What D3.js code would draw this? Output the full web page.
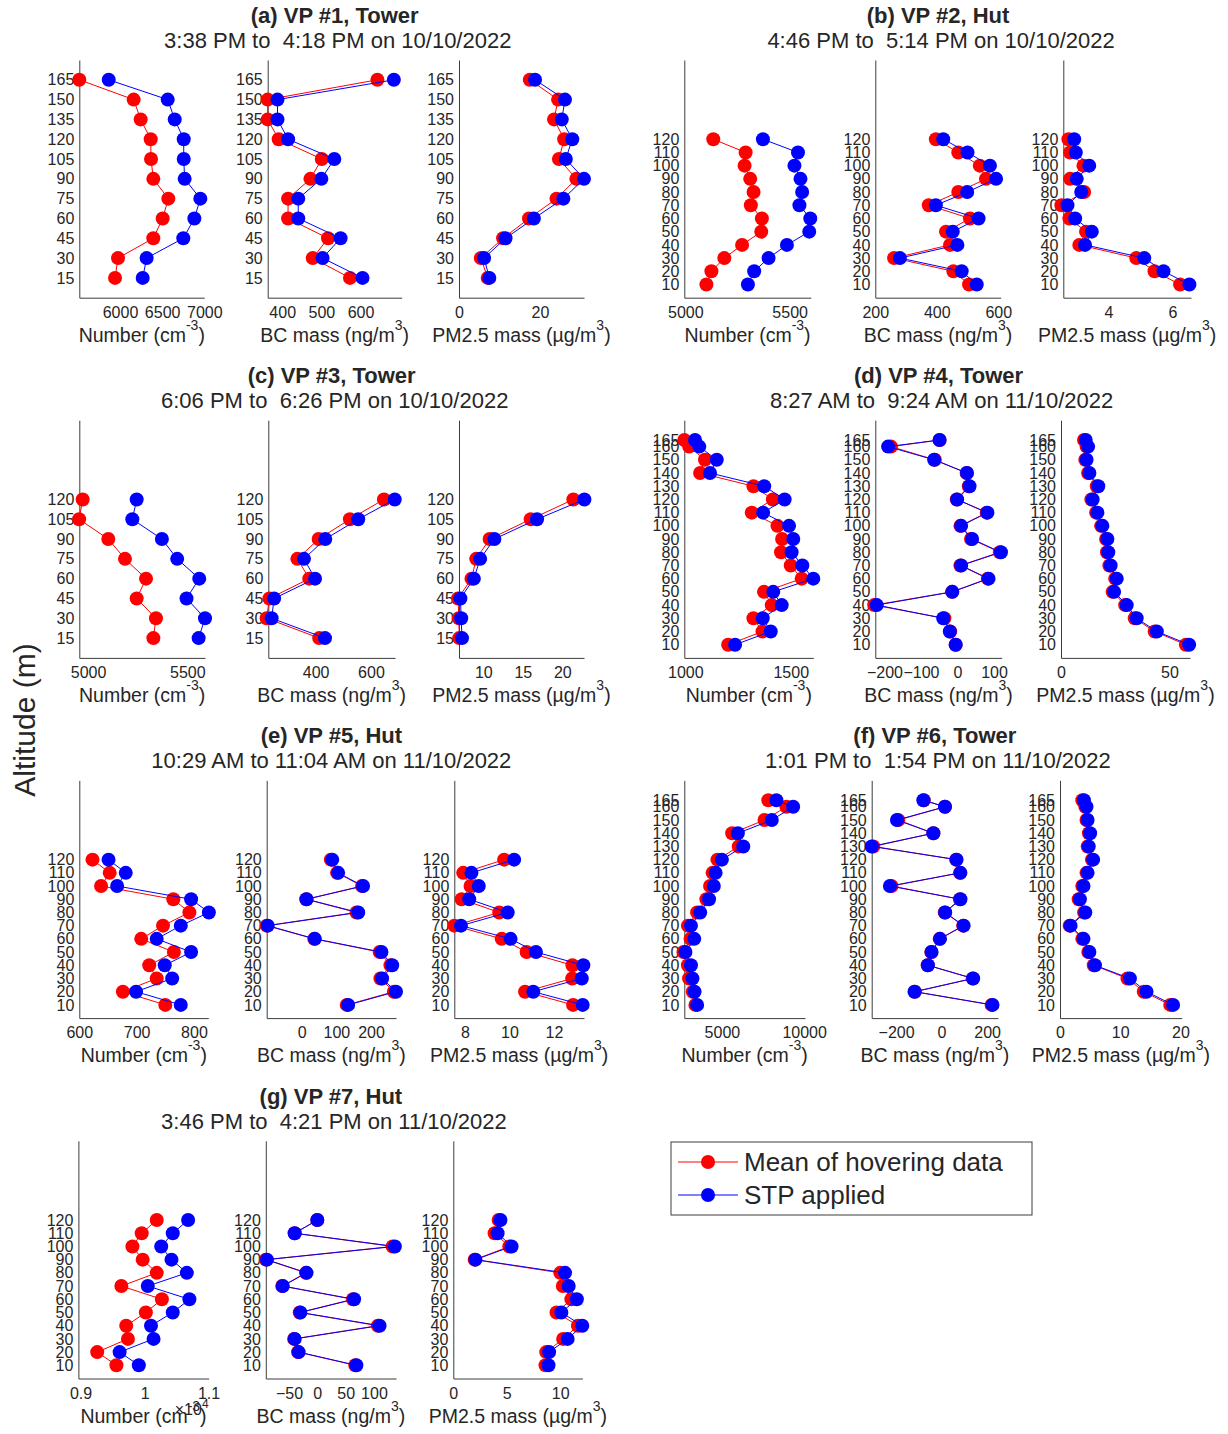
<!DOCTYPE html>
<html>
<head>
<meta charset="utf-8">
<script src="https://cdn.jsdelivr.net/npm/d3@7"></script>
<style>
  body { margin: 0; background: #fff; }
  svg text { font-family: "Liberation Sans", Arial, Helvetica, sans-serif; fill: #262626; }
</style>
</head>
<body>
<svg id="fig" width="1228" height="1434"></svg>
<script>
// ---------------- vertical profile data ----------------
// Each profile: altitudes (m) and, for number, BC and PM2.5,
// the mean of hovering data and the STP-applied value.

// VP #1
const vp1Alt = [165, 150, 135, 120, 105, 90, 75, 60, 45, 30, 15];
const vp1NumMean = [5517, 6162, 6245, 6364, 6368, 6395, 6573, 6506, 6395, 5976, 5941];
const vp1NumStp  = [5866, 6566, 6649, 6756, 6756, 6767, 6953, 6882, 6751, 6316, 6269];
const vp1BcMean  = [643, 363, 363, 391, 501, 472, 415, 415, 517, 478, 573];
const vp1BcStp   = [685, 388, 388, 415, 533, 500, 441, 441, 549, 503, 605];
const vp1PmMean  = [17.5, 24.5, 23.5, 26.0, 24.7, 29.0, 24.1, 17.3, 10.9, 5.4, 7.1];
const vp1PmStp   = [18.8, 26.2, 25.4, 28.0, 26.4, 30.9, 25.8, 18.5, 11.5, 6.2, 7.5];

// VP #2
const vp2Alt = [120, 110, 100, 90, 80, 70, 60, 50, 40, 30, 20, 10];
const vp2NumMean = [5134, 5289, 5284, 5311, 5327, 5314, 5367, 5364, 5272, 5187, 5125, 5101];
const vp2NumStp  = [5372, 5540, 5523, 5552, 5560, 5547, 5599, 5594, 5487, 5399, 5330, 5300];
const vp2BcMean  = [397, 470, 540, 560, 470, 374, 508, 430, 443, 261, 454, 505];
const vp2BcStp   = [421, 500, 573, 593, 499, 397, 536, 452, 467, 280, 481, 530];
const vp2PmMean  = [2.75, 2.80, 3.22, 2.80, 3.24, 2.53, 2.78, 3.30, 3.09, 4.87, 5.44, 6.24];
const vp2PmStp   = [2.93, 2.98, 3.40, 3.01, 3.15, 2.72, 2.96, 3.48, 3.27, 5.12, 5.72, 6.53];

// VP #3
const vp3Alt = [120, 105, 90, 75, 60, 45, 30, 15];
const vp3NumMean = [4973, 4955, 5102, 5186, 5292, 5245, 5342, 5329];
const vp3NumStp  = [5245, 5223, 5372, 5449, 5560, 5496, 5589, 5557];
const vp3BcMean  = [647, 524, 411, 334, 377, 233, 223, 413];
const vp3BcStp   = [686, 554, 435, 358, 398, 250, 241, 434];
const vp3PmMean  = [21.4, 16.0, 10.8, 9.1, 8.5, 6.8, 6.9, 6.95];
const vp3PmStp   = [22.8, 16.8, 11.4, 9.6, 8.8, 7.1, 7.2, 7.3];

// VP #4
const vp4Alt = [165, 160, 150, 140, 130, 120, 110, 100, 90, 80, 70, 60, 50, 40, 30, 20, 10];
const vp4NumMean = [995, 1018, 1093, 1070, 1323, 1415, 1315, 1437, 1459, 1454, 1500, 1552, 1373, 1410, 1323, 1366, 1203];
const vp4NumStp  = [1046, 1066, 1149, 1117, 1374, 1471, 1369, 1492, 1512, 1504, 1555, 1607, 1417, 1457, 1367, 1405, 1236];
const vp4BcMean  = [-49, -182, -62, 25, 31, -2, 80, 8, 37, 116, 8, 83, -15, -228, -36, -20, -5];
const vp4BcStp   = [-49, -190, -64, 26, 33, -1, 82, 10, 40, 119, 10, 85, -14, -221, -39, -21, -5];
const vp4PmMean  = [10.6, 11.8, 11.2, 12.5, 16.5, 14.0, 16.2, 18.5, 20.8, 21.2, 22.3, 25.0, 23.8, 29.6, 34.0, 43.2, 57.6];
const vp4PmStp   = [11.4, 12.5, 11.8, 13.1, 17.2, 14.6, 16.8, 19.1, 21.4, 21.8, 22.9, 25.7, 24.5, 30.3, 34.9, 44.2, 59.1];

// VP #5
const vp5Alt = [120, 110, 100, 90, 80, 70, 60, 50, 40, 30, 20, 10];
const vp5NumMean = [623, 653, 638, 764, 792, 746, 708, 765, 722, 735, 676, 750];
const vp5NumStp  = [651, 681, 666, 795, 826, 777, 735, 795, 749, 762, 699, 777];
const vp5BcMean  = [84, 102, 174, 13, 158, -101, 36, 225, 256, 227, 266, 130];
const vp5BcStp   = [88, 105, 177, 14, 163, -98, 38, 230, 261, 232, 272, 134];
const vp5PmMean  = [9.76, 7.92, 8.25, 7.85, 9.54, 7.52, 9.65, 10.77, 12.83, 12.82, 10.70, 12.86];
const vp5PmStp   = [10.21, 8.29, 8.62, 8.19, 9.92, 7.82, 10.05, 11.19, 13.32, 13.25, 11.07, 13.29];

// VP #6
const vp6Alt = [165, 160, 150, 140, 130, 120, 110, 100, 90, 80, 70, 60, 50, 40, 30, 20, 10];
const vp6NumMean = [7820, 8920, 7590, 5625, 6025, 4730, 4435, 4280, 4055, 3495, 2935, 3095, 2665, 2935, 3005, 3230, 3390];
const vp6NumStp  = [8310, 9330, 8030, 5970, 6300, 5000, 4620, 4510, 4220, 3680, 3120, 3320, 2785, 3120, 3210, 3340, 3495];
const vp6BcMean  = [-78, 15, -190, -36, -300, 64, 81, -220, 81, 14, 95, -8, -45, -61, 137, -117, 220];
const vp6BcStp   = [-80, 15, -196, -36, -307, 66, 83, -227, 83, 16, 97, -7, -44, -60, 139, -119, 224];
const vp6PmMean  = [3.7, 4.2, 4.4, 4.8, 4.6, 5.3, 4.4, 3.7, 3.1, 4.0, 1.6, 3.7, 4.7, 5.6, 11.2, 13.9, 18.3];
const vp6PmStp   = [3.97, 4.4, 4.58, 5.0, 4.77, 5.5, 4.58, 3.9, 3.3, 4.2, 1.76, 3.9, 4.88, 5.8, 11.6, 14.36, 18.77];

// VP #7
const vp7Alt = [120, 110, 100, 90, 80, 70, 60, 50, 40, 30, 20, 10];
const vp7NumMean = [10190, 9955, 9810, 9970, 10190, 9637, 10270, 10020, 9713, 9740, 9260, 9560];
const vp7NumStp  = [10680, 10440, 10260, 10420, 10660, 10050, 10700, 10440, 10100, 10140, 9610, 9910];
const vp7BcMean  = [0, -40, 133, -91, -20, -62, 63, -31, 107, -41, -34, 67];
const vp7BcStp   = [0, -40, 137, -89, -19, -61, 65, -30, 110, -40, -33, 69];
const vp7PmMean  = [4.24, 3.86, 5.24, 2.0, 10.0, 10.24, 11.04, 9.65, 11.65, 10.27, 8.69, 8.62];
const vp7PmStp   = [4.41, 4.14, 5.45, 2.07, 10.45, 10.79, 11.55, 10.1, 12.06, 10.69, 8.96, 8.9];

// Axis limits (number, BC, PM2.5) per profile
const vp1Lims = [[5517, 7000], [363, 705], [0, 30.9]];
const vp2Lims = [[4995, 5601], [200, 608], [2.59, 6.58]];
const vp3Lims = [[4956, 5589], [229, 687], [6.92, 22.75]];
const vp4Lims = [[995, 1607], [-225, 121], [0, 59.5]];
const vp5Lims = [[600, 825], [-101, 272], [7.52, 13.35]];
const vp6Lims = [[2716, 10050], [-307, 248], [0, 20.2]];
const vp7Lims = [[8966, 11000], [-91, 139], [0, 12.07]];

// Tick values (number, BC, PM2.5) per profile
const vp1Ticks = [[6000, 6500, 7000], [400, 500, 600], [0, 20]];
const vp2Ticks = [[5000, 5500], [200, 400, 600], [4, 6]];
const vp3Ticks = [[5000, 5500], [400, 600], [10, 15, 20]];
const vp4Ticks = [[1000, 1500], [-200, -100, 0, 100], [0, 50]];
const vp5Ticks = [[600, 700, 800], [0, 100, 200], [8, 10, 12]];
const vp6Ticks = [[5000, 10000], [-200, 0, 200], [0, 10, 20]];
const vp7Ticks = [[9000, 10000, 11000], [-50, 0, 50, 100], [0, 5, 10]];

const panelTitles = ["(a) VP #1, Tower", "(b) VP #2, Hut", "(c) VP #3, Tower", "(d) VP #4, Tower",
                     "(e) VP #5, Hut", "(f) VP #6, Tower", "(g) VP #7, Hut"];
const panelTimes = [" 3:38 PM to  4:18 PM on 10/10/2022", " 4:46 PM to  5:14 PM on 10/10/2022",
                    " 6:06 PM to  6:26 PM on 10/10/2022", " 8:27 AM to  9:24 AM on 11/10/2022",
                    "10:29 AM to 11:04 AM on 11/10/2022", " 1:01 PM to  1:54 PM on 11/10/2022",
                    " 3:46 PM to  4:21 PM on 11/10/2022"];
const seriesNames = ["Mean of hovering data", "STP applied"];
const altitudeDomain = [0, 180];

// ---------------- assemble ----------------
const profiles = [
  { alt: vp1Alt, vals: [[vp1NumMean, vp1NumStp], [vp1BcMean, vp1BcStp], [vp1PmMean, vp1PmStp]], lims: vp1Lims, ticks: vp1Ticks },
  { alt: vp2Alt, vals: [[vp2NumMean, vp2NumStp], [vp2BcMean, vp2BcStp], [vp2PmMean, vp2PmStp]], lims: vp2Lims, ticks: vp2Ticks },
  { alt: vp3Alt, vals: [[vp3NumMean, vp3NumStp], [vp3BcMean, vp3BcStp], [vp3PmMean, vp3PmStp]], lims: vp3Lims, ticks: vp3Ticks },
  { alt: vp4Alt, vals: [[vp4NumMean, vp4NumStp], [vp4BcMean, vp4BcStp], [vp4PmMean, vp4PmStp]], lims: vp4Lims, ticks: vp4Ticks },
  { alt: vp5Alt, vals: [[vp5NumMean, vp5NumStp], [vp5BcMean, vp5BcStp], [vp5PmMean, vp5PmStp]], lims: vp5Lims, ticks: vp5Ticks },
  { alt: vp6Alt, vals: [[vp6NumMean, vp6NumStp], [vp6BcMean, vp6BcStp], [vp6PmMean, vp6PmStp]], lims: vp6Lims, ticks: vp6Ticks },
  { alt: vp7Alt, vals: [[vp7NumMean, vp7NumStp], [vp7BcMean, vp7BcStp], [vp7PmMean, vp7PmStp]], lims: vp7Lims, ticks: vp7Ticks, expNum: 4 }
];

// ---------------- layout ----------------
const colors = ["#ff0000", "#0000ff"];
const axisColor = "#3c3c3c";
const rowBottoms = [297.7, 657.9, 1018.1, 1378.5];
const axisHeight = 237.7;
// horizontal pixel spans of the three axes in each profile
const axisSpans = [
  [[79.3, 204.3], [267.7, 401.7], [459, 584]],
  [[684.3, 810.7], [875.3, 1000.7], [1063.3, 1191]],
  [[79.3, 205], [268.3, 395], [459, 584]],
  [[684.3, 813.3], [875.3, 1001.7], [1061, 1190]],
  [[79.3, 208.3], [266.7, 396], [454.3, 584]],
  [[684.3, 805], [871.7, 998], [1060, 1181.7]],
  [[78.4, 208.6], [265.8, 396], [453.3, 582.4]]
];
const rowOf = [0, 0, 1, 1, 2, 2, 3];

const svg = d3.select("#fig");
const tickFont = 16, labelFont = 19.5, titleFont = 22, markerR = 7;

// tick labels use a true minus sign
function fmt(v) { return String(v).replace("-", "\u2212"); }

function axisLabel(g, cx, y, kind) {
  const t = g.append("text").attr("x", cx).attr("y", y)
    .attr("text-anchor", "middle").style("font-size", labelFont + "px");
  const parts = [["Number (cm", "-3"], ["BC mass (ng/m", "3"], ["PM2.5 mass (\u00b5g/m", "3"]][kind];
  t.append("tspan").text(parts[0]);
  t.append("tspan").attr("dy", -12).style("font-size", "14px").text(parts[1]);
  t.append("tspan").attr("dy", 12).text(")");
}

profiles.forEach((p, pi) => {
  const bottom = rowBottoms[rowOf[pi]];
  const top = bottom - axisHeight;
  const y = d3.scaleLinear().domain(altitudeDomain).range([bottom, top]);

  for (let k = 0; k < 3; k++) {
    const [x0, x1] = axisSpans[pi][k];
    const x = d3.scaleLinear().domain(p.lims[k]).range([x0, x1]);
    const g = svg.append("g");

    // left axis with altitude ticks
    const ay = g.append("g").attr("transform", `translate(${x0},0)`)
      .call(d3.axisLeft(y).tickValues(p.alt).tickSize(0).tickPadding(5).tickFormat(d3.format("d")));
    // bottom axis
    const useExp = (k === 0 && p.expNum);
    const ax = g.append("g").attr("transform", `translate(0,${bottom})`)
      .call(d3.axisBottom(x).tickValues(p.ticks[k]).tickSize(0).tickPadding(9)
        .tickFormat(v => useExp ? fmt(+(v / Math.pow(10, p.expNum)).toFixed(3)) : fmt(v)));
    [ay, ax].forEach(a => {
      a.select(".domain").attr("stroke", axisColor).attr("stroke-width", 1);
      a.selectAll("text").style("font-size", tickFont + "px").attr("fill", "#262626")
        .style("font-family", '"Liberation Sans", Arial, Helvetica, sans-serif');
    });

    // profiles: mean first, STP on top
    p.vals[k].forEach((vals, si) => {
      const pts = p.alt.map((a, i) => ({ a, v: vals[i] }));
      g.append("path").datum(pts)
        .attr("fill", "none").attr("stroke", colors[si]).attr("stroke-width", 1)
        .attr("d", d3.line().x(d => x(d.v)).y(d => y(d.a)));
      g.selectAll(null).data(pts).enter().append("circle")
        .attr("cx", d => x(d.v)).attr("cy", d => y(d.a)).attr("r", markerR)
        .attr("fill", colors[si]);
    });

    axisLabel(g, (x0 + x1) / 2, bottom + 44, k);

    if (useExp) {
      const e = g.append("text").attr("x", x1).attr("y", bottom + 36)
        .attr("text-anchor", "end").style("font-size", tickFont + "px");
      e.append("tspan").text("\u00d710");
      e.append("tspan").attr("dy", -7).style("font-size", "12px").text(String(p.expNum));
    }
  }

  // two-line title centred over the middle axis
  const mid = (axisSpans[pi][1][0] + axisSpans[pi][1][1]) / 2;
  svg.append("text").attr("x", mid).attr("y", top - 37).attr("text-anchor", "middle")
    .style("font-size", titleFont + "px").style("font-weight", "bold").text(panelTitles[pi]);
  svg.append("text").attr("x", mid).attr("y", top - 12).attr("text-anchor", "middle")
    .style("font-size", titleFont + "px").style("white-space", "pre").text(panelTimes[pi]);
});

// shared altitude label
svg.append("text")
  .attr("transform", "translate(35,720) rotate(-90)")
  .attr("text-anchor", "middle").style("font-size", "30px").text("Altitude (m)");

// legend
const lg = svg.append("g").attr("transform", "translate(671,1142)");
lg.append("rect").attr("x", 0).attr("y", 0).attr("width", 361).attr("height", 73)
  .attr("fill", "#fff").attr("stroke", axisColor).attr("stroke-width", 1);
seriesNames.forEach((name, i) => {
  const cy = 20 + i * 33;
  lg.append("line").attr("x1", 7).attr("x2", 67).attr("y1", cy).attr("y2", cy)
    .attr("stroke", colors[i]).attr("stroke-width", 1);
  lg.append("circle").attr("cx", 37).attr("cy", cy).attr("r", markerR).attr("fill", colors[i]);
  lg.append("text").attr("x", 73).attr("y", cy + 9).style("font-size", "26px").text(name);
});
</script>
</body>
</html>
